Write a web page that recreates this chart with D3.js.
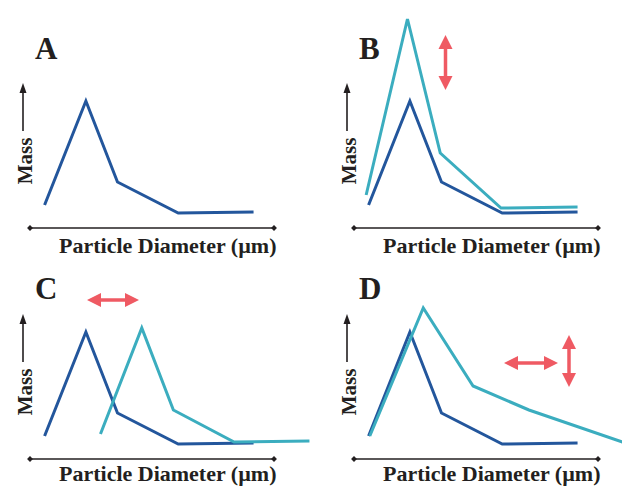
<html>
<head>
    <meta charset="utf-8">
    <title>Particle size distributions</title>
    <style>
        body { margin: 0; background: #fff; }
        text { font-family: "Liberation Serif", "Times New Roman", serif; font-weight: bold; fill: #231f20; }
        .curve { fill: none; stroke-width: 3px; stroke-linejoin: miter; }
    </style>
</head>
<body>
    <svg width="622" height="486"></svg>
    <script src="https://d3js.org/d3.v7.min.js"></script>
    <script>
        // base distribution (dark blue), same in every panel
        var baseDiameter = [6, 23, 36, 61, 92];
        var baseMass = [11.5, 63.5, 23, 7.5, 8];

        // changed distributions (teal)
        var diameterB = [5, 22, 35.5, 60.5, 92];
        var massB = [16.5, 104.5, 37.5, 10, 10.5];
        var diameterC = [29, 46, 59, 84, 115];
        var massC = [12.5, 65.5, 24.5, 8.5, 9];
        var diameterD = [6.5, 28.5, 49, 72, 110.5];
        var massD = [11.5, 75.5, 36.5, 24.5, 8.5];

        var letters = ["A", "B", "C", "D"];
        var xLabel = "Particle Diameter (\u00b5m)";
        var yLabel = "Mass";

        var darkBlue = "#23569c", teal = "#3badbf", red = "#ef5a63", ink = "#231f20";

        var svg = d3.select("svg");

        var x = d3.scaleLinear().domain([0, 100]).range([30, 273]);
        var y = d3.scaleLinear().domain([0, 100]).range([228, 28]);

        var line = d3.line()
            .x(function (d) { return x(d[0]); })
            .y(function (d) { return y(d[1]); });

        function zipped(xs, ys) { return xs.map(function (v, i) { return [v, ys[i]]; }); }

        var panels = [
            { letter: letters[0], dx: 0, dy: 0, teal: null },
            { letter: letters[1], dx: 324, dy: 0, teal: zipped(diameterB, massB) },
            { letter: letters[2], dx: 0, dy: 231, teal: zipped(diameterC, massC) },
            { letter: letters[3], dx: 324, dy: 231, teal: zipped(diameterD, massD) }
        ];

        function arrowHead(g, tipX, tipY, dirX, dirY, len, half) {
            // perpendicular
            var px = -dirY, py = dirX;
            var bx = tipX - dirX * len, by = tipY - dirY * len;
            g.append("polygon")
                .attr("points", [[tipX, tipY], [bx + px * half, by + py * half], [bx - px * half, by - py * half]].join(" "));
        }

        function redArrow(g, x1, y1, x2, y2) {
            var a = g.append("g").attr("fill", red);
            var len = Math.hypot(x2 - x1, y2 - y1), ux = (x2 - x1) / len, uy = (y2 - y1) / len;
            a.append("line")
                .attr("x1", x1 + ux * 10).attr("y1", y1 + uy * 10)
                .attr("x2", x2 - ux * 10).attr("y2", y2 - uy * 10)
                .attr("stroke", red).attr("stroke-width", 3.5);
            arrowHead(a, x2, y2, ux, uy, 14, 7);
            arrowHead(a, x1, y1, -ux, -uy, 14, 7);
        }

        panels.forEach(function (p, i) {
            var g = svg.append("g").attr("transform", "translate(" + p.dx + "," + p.dy + ")");

            g.append("text")
                .attr("x", 35)
                .attr("y", p.dy ? 68 : 59)
                .style("font-size", "31px")
                .text(p.letter);

            // x axis with diamond ends
            g.append("line")
                .attr("x1", 30).attr("x2", 274)
                .attr("y1", y(0)).attr("y2", y(0))
                .attr("stroke", ink).attr("stroke-width", 1.6);
            [30, 274].forEach(function (ex) {
                g.append("path")
                    .attr("d", d3.symbol().type(d3.symbolDiamond2).size(22)())
                    .attr("transform", "translate(" + ex + "," + y(0) + ")")
                    .attr("fill", ink);
            });
            g.append("text")
                .attr("x", 59)
                .attr("y", p.dy ? 250 : 253)
                .style("font-size", "22px")
                .text(xLabel);

            // y arrow and label
            g.append("line")
                .attr("x1", 23).attr("x2", 23)
                .attr("y1", 131).attr("y2", 90)
                .attr("stroke", ink).attr("stroke-width", 1.6);
            var ya = g.append("g").attr("fill", ink);
            arrowHead(ya, 23, 83, 0, -1, 10, 3.5);
            g.append("text")
                .attr("transform", "translate(32,161) rotate(-90)")
                .attr("text-anchor", "middle")
                .style("font-size", "21px")
                .text(yLabel);

            g.append("path")
                .attr("class", "curve")
                .attr("stroke", darkBlue)
                .attr("d", line(zipped(baseDiameter, baseMass)));

            if (p.teal) {
                g.append("path")
                    .attr("class", "curve")
                    .attr("stroke", teal)
                    .attr("d", line(p.teal));
            }

            if (i === 1) redArrow(g, 121.5, 35, 121.5, 90);
            if (i === 2) redArrow(g, 87, 69, 139, 69);
            if (i === 3) {
                redArrow(g, 180, 132, 234, 132);
                redArrow(g, 245, 104, 245, 156);
            }
        });
    </script>
</body>
</html>
